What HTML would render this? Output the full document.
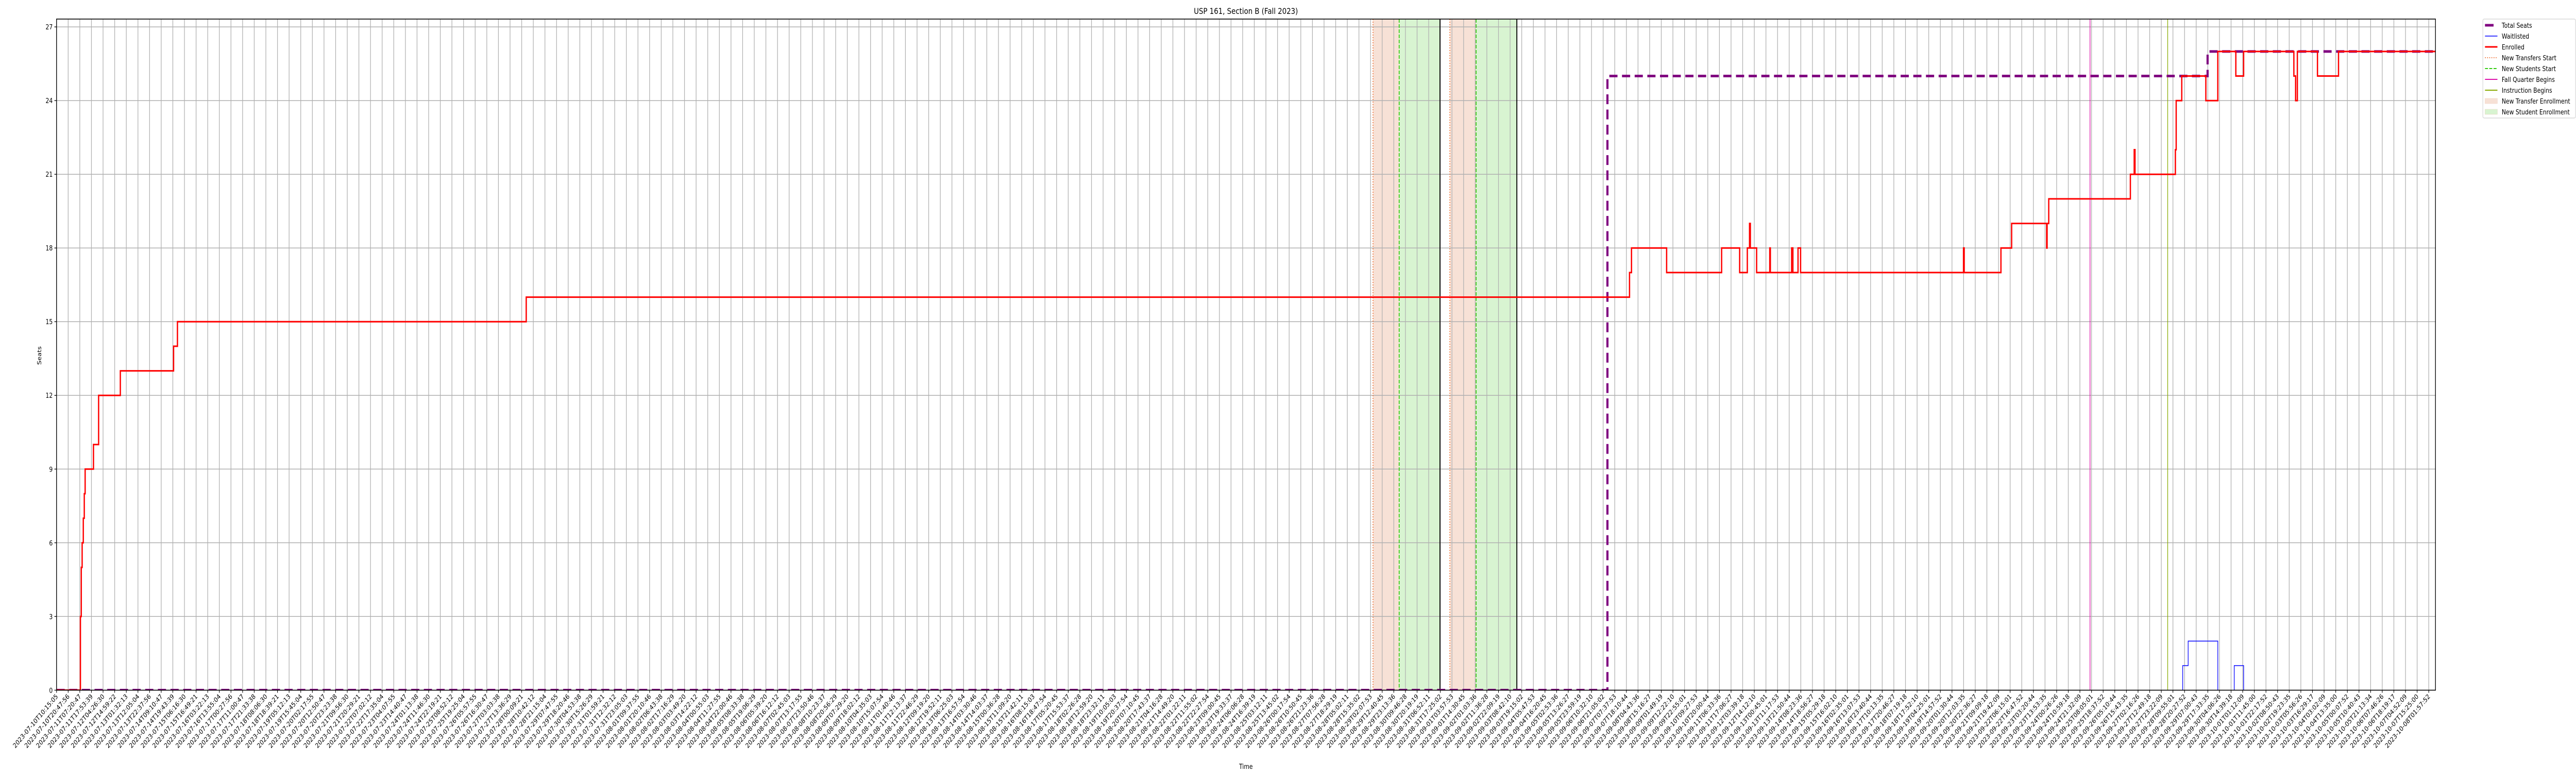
<!DOCTYPE html>
<html><head><meta charset="utf-8"><style>
html,body{margin:0;padding:0;background:#fff;width:100%;height:100%;overflow:hidden;}
svg{display:block;width:100vw;height:100vh;font-family:"DejaVu Sans","Liberation Sans",sans-serif;}
</style></head><body>
<svg id="chart" viewBox="0 0 6000 1500" preserveAspectRatio="none" overflow="hidden" xmlns="http://www.w3.org/2000/svg">
<defs><clipPath id="plotclip"><rect x="131.7" y="37" width="5541" height="1302.3"/></clipPath></defs>
<rect x="0" y="0" width="6000" height="1500" fill="#fff"/>
<g id="spans" clip-path="url(#plotclip)"></g>
<g id="grid"></g>
<g id="events" clip-path="url(#plotclip)"></g>
<g id="series" clip-path="url(#plotclip)"></g>
<rect x="131.7" y="37" width="5541" height="1302.3" fill="none" stroke="#000" stroke-width="1.6"/>
<g id="ticks"></g>
<text x="2902" y="27" font-size="16" text-anchor="middle">USP 161, Section B (Fall 2023)</text>
<text x="2902" y="1492" font-size="13" text-anchor="middle">Time</text>
<text x="0" y="0" font-size="13" text-anchor="middle" transform="translate(96,690) rotate(-90)">Seats</text>
<g id="legend"></g>
</svg>
<script>
// ---- data (x in tick-index units, y in seats) ----
const enrolledX = [0, 2.053, 2.127, 2.201, 2.300, 2.385, 2.459, 3.175, 3.618, 5.486, 10.065, 10.397, 40.391, 135.27, 135.44, 138.46, 143.19, 144.74, 145.40, 145.59, 145.66, 146.20, 147.33, 147.38, 149.21, 149.32, 149.76, 149.98, 163.99, 164.05, 167.21, 168.13, 171.14, 171.18, 171.32, 178.34, 178.67, 178.74, 182.21, 182.28, 182.76, 184.83, 185.86, 187.41, 188.08, 192.40, 192.55, 192.70, 194.43, 196.24, 204.58];
const enrolledY = [0, 3, 5, 6, 7, 8, 9, 10, 12, 13, 14, 15, 16, 17, 18, 17, 18, 17, 18, 19, 18, 17, 18, 17, 18, 17, 18, 17, 18, 17, 18, 19, 18, 19, 20, 21, 22, 21, 22, 24, 25, 24, 26, 25, 26, 25, 24, 26, 25, 26, 26];
const totalX = [0, 133.37, 184.98, 204.58];
const totalY = [0, 25, 26, 26];
const waitX = [0, 182.84, 183.31, 185.86, 187.27, 188.08, 204.58];
const waitY = [0, 1, 2, 0, 1, 0, 0];
const transferStarts = [113.21, 119.82];
const studentStarts = [115.46, 122.08];
const enrollmentEnds = [118.97, 125.58];
const fallQuarterBegins = [174.87];
const instructionBegins = [181.55];
const yTicks = [0, 3, 6, 9, 12, 15, 18, 21, 24, 27];
const tickStart = "2023-07-10T10:15:05";
const tickEnd = "2023-10-08T01:57:52";
const tickCount = 205;

const NS = "http://www.w3.org/2000/svg";
const X0 = 131.7, DX = 27.085, XR = 5672.7;
const Y0 = 1339.3, DY = 47.67, YT = 37;
function sx(i){ return X0 + i*DX; }
function sy(v){ return Y0 - v*DY; }
function mk(tag, attrs, parent){
  const e = document.createElementNS(NS, tag);
  for (const k in attrs) e.setAttribute(k, attrs[k]);
  parent.appendChild(e); return e;
}
function pad(n){ return String(n).padStart(2,'0'); }
function fmt(d){ return d.getUTCFullYear()+"-"+pad(d.getUTCMonth()+1)+"-"+pad(d.getUTCDate())+"T"+pad(d.getUTCHours())+":"+pad(d.getUTCMinutes())+":"+pad(d.getUTCSeconds()); }
const t0 = Date.parse(tickStart+"Z"), t1 = Date.parse(tickEnd+"Z");
const tickLabels = [];
for (let i=0;i<tickCount;i++) tickLabels.push(fmt(new Date(t0 + (t1-t0)*i/(tickCount-1))));

// spans
const spans = document.getElementById('spans');
transferStarts.forEach((s,k)=>{
  const r = mk('rect',{x:sx(s),y:YT,width:sx(studentStarts[k])-sx(s),height:Y0-YT,fill:'#f7e1d6'},spans);
  
  
  const g = mk('rect',{x:sx(studentStarts[k]),y:YT,width:sx(enrollmentEnds[k])-sx(studentStarts[k]),height:Y0-YT,fill:'#d8f4d1'},spans);
  
  
});

// grid
const grid = document.getElementById('grid');
const ticks = document.getElementById('ticks');
for (let i=0;i<tickCount;i++){
  const x = sx(i);
  const l = mk('line',{x1:x,y1:YT,x2:x,y2:Y0,stroke:'#b0b0b0','stroke-width':1.5},grid);
  
  
  mk('line',{x1:x,y1:Y0,x2:x,y2:Y0+5,stroke:'#000','stroke-width':1.3},ticks);
  const t = mk('text',{x:0,y:0,'font-size':13,'text-anchor':'end',transform:`translate(${x+4},${Y0+13}) rotate(-45)`},ticks);
  
  
  t.textContent = tickLabels[i];
}
yTicks.forEach(v=>{
  const y = sy(v);
  const l = mk('line',{x1:X0,y1:y,x2:XR,y2:y,stroke:'#b0b0b0','stroke-width':1.5},grid);
  
  
  mk('line',{x1:X0-5,y1:y,x2:X0,y2:y,stroke:'#000','stroke-width':1.3},ticks);
  const t = mk('text',{x:X0-9,y:y+5,'font-size':13,'text-anchor':'end'},ticks);
  
  
  t.textContent = v;
});

// event lines
const ev = document.getElementById('events');
function vline(i, color, w, dash, name){
  const l = mk('line',{x1:sx(i),y1:YT,x2:sx(i),y2:Y0,stroke:color,'stroke-width':w},ev);
  if (dash) l.setAttribute('stroke-dasharray',dash);
  
  
}
transferStarts.forEach(i=>vline(i,'#ee6a2c',1.8,'2,3','new-transfers-start-line'));
studentStarts.forEach(i=>vline(i,'#33cc11',2,'7,3','new-students-start-line'));
enrollmentEnds.forEach(i=>vline(i,'#000',2.2,null,'enrollment-end-line'));
fallQuarterBegins.forEach(i=>vline(i,'#dd11aa',1.5,null,'fall-quarter-begins-line'));
instructionBegins.forEach(i=>vline(i,'#88aa00',1.5,null,'instruction-begins-line'));

// step series
const series = document.getElementById('series');
function stepPath(xs, ys){
  let d = `M${sx(xs[0])},${sy(ys[0])}`;
  for (let k=1;k<xs.length;k++){ d += ` H${sx(xs[k])} V${sy(ys[k])}`; }
  return d;
}
const tot = mk('path',{d:stepPath(totalX,totalY),fill:'none',stroke:'#800080','stroke-width':5,'stroke-dasharray':'19,10.5'},series);


const wl = mk('path',{d:stepPath(waitX,waitY),fill:'none',stroke:'#0000ff','stroke-width':1.5},series);


const en = mk('path',{d:stepPath(enrolledX,enrolledY),fill:'none',stroke:'#ff0000','stroke-width':3},series);



// legend
const lg = document.getElementById('legend');
mk('rect',{x:5783,y:37,width:216,height:192,fill:'#fff',stroke:'#d0d0d0','stroke-width':1.2,rx:3},lg);
const items = [
  ['Total Seats','line','#800080',5,null],
  ['Waitlisted','line','#0000ff',1.5,null],
  ['Enrolled','line','#ff0000',3,null],
  ['New Transfers Start','line','#ee6a2c',1.8,'2,3'],
  ['New Students Start','line','#33cc11',2,'7,3'],
  ['Fall Quarter Begins','line','#dd11aa',2,null],
  ['Instruction Begins','line','#88aa00',2,null],
  ['New Transfer Enrollment','patch','#f7e1d6'],
  ['New Student Enrollment','patch','#d8f4d1']
];
items.forEach((it,k)=>{
  const y = 49 + k*21;
  const g = mk('g',{},lg);
  
  
  if (it[1]==='line'){
    const l = mk('line',{x1:5788,y1:y,x2:5817,y2:y,stroke:it[2],'stroke-width':it[3]},g);
    if (it[4]) l.setAttribute('stroke-dasharray',it[4]);
    if (k===0) l.setAttribute('x2',5808);
  } else {
    mk('rect',{x:5788,y:y-5,width:29,height:10,fill:it[2],stroke:'#efcfbf','stroke-width':0.5},g);
  }
  const t = mk('text',{x:5827,y:y+5,'font-size':13},g);
  t.textContent = it[0];
});
</script>
</body></html>
